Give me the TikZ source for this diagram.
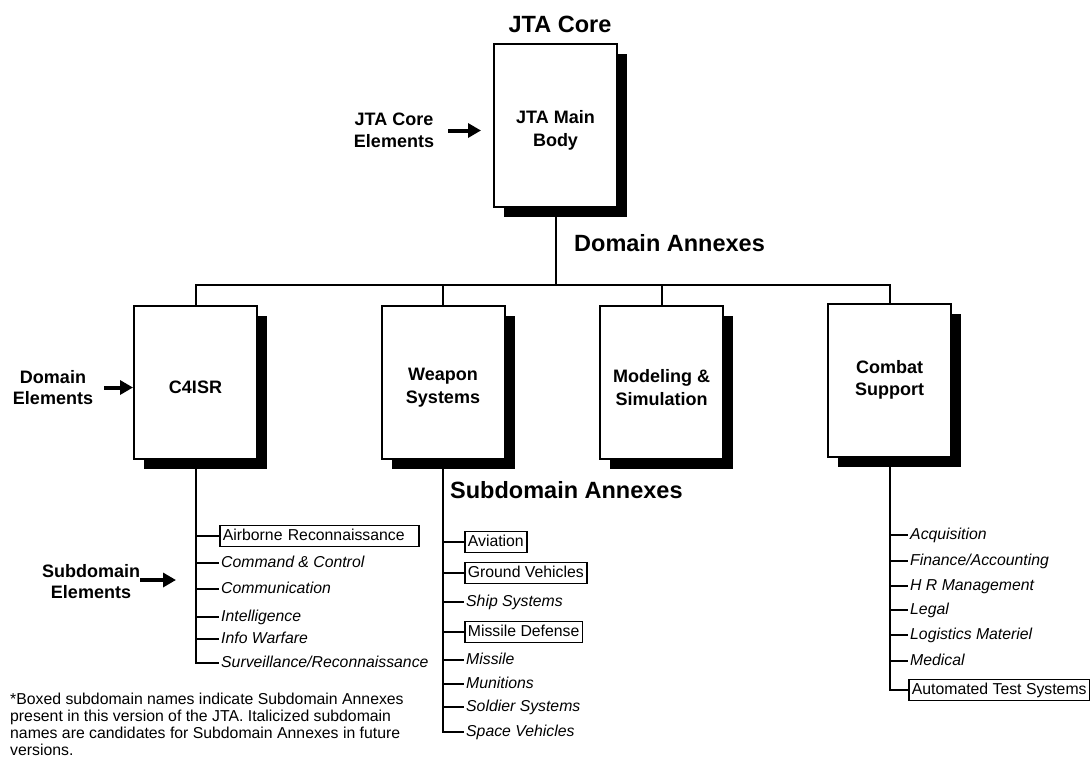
\documentclass[tikz,border=0pt]{standalone}
\usepackage{fontspec}
\setmainfont{Liberation Sans}
\usetikzlibrary{arrows.meta,shadows}
\newcommand{\boxlift}{\rule{0pt}{23pt}}

\begin{document}
\begin{tikzpicture}[x=1pt, y=-1pt,
    headline/.style={font=\bfseries\fontsize{23.5}{28}\selectfont, inner sep=0pt},
    bigbox/.style={draw, line width=2pt, fill=white, minimum width=123pt, minimum height=153pt,
      align=center, font=\bfseries\fontsize{18}{22.5}\selectfont,
      drop shadow={shadow xshift=10pt, shadow yshift=-10pt, fill=black, opacity=1}},
    elemlabel/.style={font=\bfseries\fontsize{18}{21.5}\selectfont, align=center, inner sep=0pt},
    bigarrow/.style={line width=4pt, -{Triangle[length=13pt,width=14pt]}},
    wire/.style={line width=2pt},
    subitem/.style={anchor=west, inner xsep=2pt, inner ysep=3pt, text height=11.5pt, text depth=3.5pt,
      font=\itshape\fontsize{15.8}{18}\selectfont},
    annex/.style={subitem, draw, line width=1.7pt, inner xsep=3pt, font=\fontsize{15.8}{18}\selectfont}]
  \useasboundingbox (0,0) rectangle (1092,764);

  % core
  \node[headline] (coretitle) at (560,24) {JTA Core};
  \node[bigbox, minimum height=163pt] (core) at (555.5,125.5) {\boxlift JTA Main\\Body};
  \node[elemlabel] (coreel) at (394,130.5) {JTA Core\\Elements};
  \draw[bigarrow] ([xshift=14pt]coreel.east) -- ([xshift=-12pt]coreel.east -| core.west);

  % domain annexes
  \node[headline, anchor=west] (domtitle) at (574,243) {Domain Annexes};
  \coordinate (bus) at (555.5,285);
  \node[bigbox] (c4isr) at (195.5,382.5) {\boxlift C4ISR};
  \node[bigbox] (weapon) at (443,382.5) {\boxlift Weapon\\Systems};
  \node[bigbox] (modsim) at (661.5,382.5) {\boxlift Modeling \&\\Simulation};
  \node[bigbox] (combat) at (889.5,380) {Combat\\Support};
  \draw[wire] (core.south) -- (bus);
  \foreach \d in {c4isr,weapon,modsim,combat}
    \draw[wire] (\d.north) |- (bus);
  \node[elemlabel] (domel) at (53,387.5) {Domain\\Elements};
  \draw[bigarrow] ([xshift=11pt]domel.east) -- (domel.east -| c4isr.west);

  % subdomain annexes
  \node[headline, anchor=west] (subtitle) at (450,490) {Subdomain Annexes};
  \node[elemlabel] (subel) at (91,581.5) {Subdomain\\Elements};
  \coordinate (subtip) at (176,580);
  \draw[bigarrow] (subel.east |- subtip) -- (subtip);

  % C4ISR subdomains
  \node[annex, text width=193pt, align=left] (airborne) at (219,536) {Airborne Reconnaissance};
  \node[subitem] (cmdctrl) at (219,563) {Command \& Control};
  \node[subitem] (comms) at (219,589) {Communication};
  \node[subitem] (intel) at (219,617) {Intelligence};
  \node[subitem] (infowar) at (219,639) {Info Warfare};
  \node[subitem] (surv) at (219,663) {Surveillance/Reconnaissance};
  \foreach \s in {airborne,cmdctrl,comms,intel,infowar,surv}
    \draw[wire] (c4isr.south) |- (\s.west);

  % weapon subdomains
  \node[annex] (aviation) at (464,542) {Aviation};
  \node[annex] (ground) at (464,573) {Ground Vehicles};
  \node[subitem] (ship) at (464,602) {Ship Systems};
  \node[annex] (misdef) at (464,632) {Missile Defense};
  \node[subitem] (missile) at (464,660) {Missile};
  \node[subitem] (munitions) at (464,684) {Munitions};
  \node[subitem] (soldier) at (464,707) {Soldier Systems};
  \node[subitem] (space) at (464,732) {Space Vehicles};
  \foreach \s in {aviation,ground,ship,misdef,missile,munitions,soldier,space}
    \draw[wire] (weapon.south) |- (\s.west);

  % combat support subdomains
  \node[subitem] (acq) at (908,535) {Acquisition};
  \node[subitem] (finance) at (908,561) {Finance/Accounting};
  \node[subitem] (hrm) at (908,586) {H R Management};
  \node[subitem] (legal) at (908,610) {Legal};
  \node[subitem] (logistics) at (908,635) {Logistics Materiel};
  \node[subitem] (medical) at (908,661) {Medical};
  \node[annex] (ats) at (908,690) {Automated Test Systems};
  \foreach \s in {acq,finance,hrm,legal,logistics,medical,ats}
    \draw[wire] (combat.south) |- (\s.west);

  % footnote
  \node[anchor=north west, inner sep=0pt, align=left, font=\fontsize{15.8}{17}\selectfont] (note) at (10,693)
    {*Boxed subdomain names indicate Subdomain Annexes\\present in this version of the JTA. Italicized subdomain\\names are candidates for Subdomain Annexes in future\\versions.};
\end{tikzpicture}
\end{document}
